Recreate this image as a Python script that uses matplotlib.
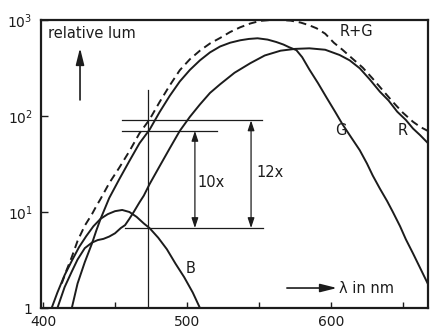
import matplotlib
matplotlib.use("Agg")
import matplotlib.pyplot as plt
from matplotlib.ticker import FixedLocator, NullLocator

# relative luminance of the blue channel
wl_b = [406, 410, 415, 420, 425, 430, 435, 440, 445, 450, 455, 460, 465, 470, 474, 480, 486, 492, 498, 504, 509]
lum_b = [1.0, 1.45, 2.2, 3.1, 4.3, 5.6, 7.1, 8.5, 9.5, 10.2, 10.5, 10.0, 8.9, 7.6, 6.8, 5.4, 4.1, 2.9, 2.1, 1.45, 1.0]

# green channel
wl_g = [420, 424, 429, 434, 437, 440, 446, 453, 460, 467, 474, 481, 488, 495, 502, 509, 516, 523,
        530, 537, 543, 549, 556, 562, 567, 571, 576, 580, 585, 591, 597, 603, 608, 614, 620, 625,
        629, 634, 639, 643, 648, 652, 657, 662, 668]
lum_g = [1.0, 1.8, 3.0, 4.7, 6.4, 8.5, 14, 22, 34, 52, 72, 110, 162, 229, 302, 380, 460, 530,
         580, 615, 635, 645, 625, 590, 555, 520, 485, 410, 305, 220, 155, 110, 82, 60, 44, 32,
         24, 17.5, 13, 10, 7.1, 5.2, 3.7, 2.6, 1.7]

# red channel (with the small shoulder in the blue)
wl_r = [410, 415, 420, 424, 429, 434, 438, 442, 446, 450, 454, 457, 460, 463, 467, 470, 474, 481,
        488, 495, 502, 509, 516, 523, 533, 544, 554, 565, 575, 585, 596, 606, 613, 620, 627, 634,
        640, 646, 652, 657, 662, 668]
lum_r = [1.0, 1.65, 2.4, 3.2, 4.2, 4.8, 5.1, 5.25, 5.55, 6.0, 6.8, 7.3, 8.5, 10, 12.6, 14.8, 19.5, 30,
         46, 70, 98, 132, 174, 214, 282, 355, 427, 479, 500, 507, 490, 432, 380, 314, 240, 179,
         145, 111, 91, 74, 63, 51]

# R+G sum curve (dashed)
wl_rg = [413, 416, 420, 424, 429, 434, 437, 440, 446, 453, 460, 467, 474, 481, 488, 495, 502, 509,
         516, 523, 530, 537, 544, 551, 558, 565, 572, 579, 585, 590, 596, 602, 608, 615, 622, 629,
         636, 643, 650, 657, 662, 668]
lum_rg = [1.8, 2.4, 3.4, 5.0, 7.2, 9.5, 11.5, 13.7, 20, 29, 43, 66, 92, 140, 208, 300, 390, 480,
          570, 650, 750, 840, 920, 980, 1000, 1000, 985, 940, 880, 820, 720, 580, 490, 395, 320, 245,
          185, 140, 108, 87, 77, 69]

# read-off at 473 nm
wl_cut = 473
cut_top = 186
lvl_rg = 90
lvl_g = 70
lvl_b = 6.8

x_ticks = [400, 500, 600]
x_minor = [450, 550, 650]
y_ticks = [1, 10, 100, 1000]
y_labels = ['1', '$10^1$', '$10^2$', '$10^3$']

ink = '#1c1c1c'

fig = plt.figure(figsize=(4.3, 3.31), dpi=100)
ax = fig.add_axes([41 / 430, 23 / 331, 387 / 430, 288 / 331])

ax.semilogy(wl_b, lum_b, color=ink, lw=1.4)
ax.semilogy(wl_g, lum_g, color=ink, lw=1.4)
ax.semilogy(wl_r, lum_r, color=ink, lw=1.4)
ax.semilogy(wl_rg, lum_rg, color=ink, lw=1.4, dashes=(4, 2.5))

ax.set_xlim(398.6, 667.4)
ax.set_ylim(1, 1000)

# vertical marker and the three levels
thin = 0.9
ax.plot([wl_cut, wl_cut], [1, cut_top], color=ink, lw=thin)
ax.plot([455, 552], [lvl_rg, lvl_rg], color=ink, lw=thin)
ax.plot([455, 521], [lvl_g, lvl_g], color=ink, lw=thin)
ax.plot([457, 553], [lvl_b, lvl_b], color=ink, lw=thin)

dbl = dict(arrowstyle='<|-|>,head_length=0.6,head_width=0.2', color=ink, lw=thin,
           shrinkA=0, shrinkB=0, mutation_scale=10)
ax.annotate('', xy=(505.5, lvl_g), xytext=(505.5, lvl_b), arrowprops=dbl)
ax.annotate('', xy=(544.5, lvl_rg), xytext=(544.5, lvl_b), arrowprops=dbl)
ax.text(507.6, 20.5, '10x', fontsize=10.5, ha='left', va='center', color=ink)
ax.text(547.9, 25.5, '12x', fontsize=10.5, ha='left', va='center', color=ink)

# curve labels
ax.text(607, 71, 'G', fontsize=10.5, ha='center', va='center', color=ink)
ax.text(650, 71, 'R', fontsize=10.5, ha='center', va='center', color=ink)
ax.text(502.8, 2.55, 'B', fontsize=10.5, ha='center', va='center', color=ink)
ax.text(618, 768, 'R+G', fontsize=10.5, ha='center', va='center', color=ink)

# axis captions with arrows
one = dict(arrowstyle='-|>,head_length=1.0,head_width=0.25', color=ink, lw=1.2,
           shrinkA=0, shrinkB=0, mutation_scale=10)
ax.text(403.5, 715, 'relative lum', fontsize=10.5, ha='left', va='center', color=ink)
ax.annotate('', xy=(425.7, 511), xytext=(425.7, 147), arrowprops=one)
ax.annotate('', xy=(604.2, 1.615), xytext=(569.4, 1.615), arrowprops=one)
ax.text(605.6, 1.615, '\u03bb in nm', fontsize=10.5, ha='left', va='center', color=ink)

# frame and ticks
for s in ax.spines.values():
    s.set_linewidth(1.6)
    s.set_color(ink)
ax.xaxis.set_major_locator(FixedLocator(x_ticks))
ax.xaxis.set_minor_locator(FixedLocator(x_minor))
ax.yaxis.set_major_locator(FixedLocator(y_ticks))
ax.yaxis.set_minor_locator(NullLocator())
ax.set_yticklabels(y_labels)
ax.tick_params(axis='both', which='both', direction='in', color=ink, labelcolor=ink,
               labelsize=10, width=1.0)
ax.tick_params(axis='x', which='both', length=4, pad=5)
ax.tick_params(axis='y', which='major', length=5, pad=6)

fig.savefig('out.png', dpi=100)
